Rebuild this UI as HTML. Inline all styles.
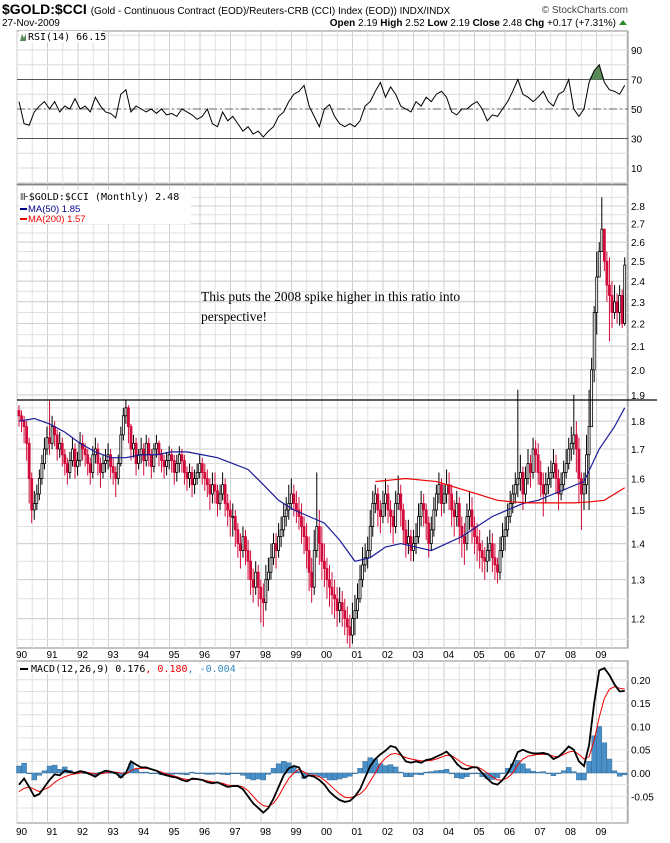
<!DOCTYPE html>
<html><head><meta charset="utf-8"><style>
body{margin:0;background:#fff;}
svg text{font-family:"Liberation Sans",sans-serif;}
</style></head><body>
<svg id="c" width="670" height="838" viewBox="0 0 670 838" xmlns="http://www.w3.org/2000/svg">
<rect x="0" y="0" width="670" height="838" fill="#fff"/>
<g id="grid"></g>
<g id="marks"></g>
<g>
<text x="2" y="14" font-size="14" font-weight="bold">$GOLD:$CCI <tspan font-size="10" font-weight="normal">(Gold - Continuous Contract (EOD)/Reuters-CRB (CCI) Index (EOD))  INDX/INDX</tspan></text>
<text x="628" y="13" font-size="10" text-anchor="end" fill="#444">© StockCharts.com</text>
<text x="2" y="26" font-size="10">27-Nov-2009</text>
<text x="616" y="26" font-size="10" text-anchor="end"><tspan font-weight="bold">Open</tspan> 2.19 <tspan font-weight="bold">High</tspan> 2.52 <tspan font-weight="bold">Low</tspan> 2.19 <tspan font-weight="bold">Close</tspan> 2.48 <tspan font-weight="bold">Chg</tspan> +0.17 (+7.31%)</text>
<polygon points="619,25 627,25 623,20" fill="#2a8a2a"/>
</g>
<text x="201" y="301" font-size="13.5" font-family="Liberation Serif, serif" style="font-family:'Liberation Serif',serif">This puts the 2008 spike higher in this ratio into</text>
<text x="201" y="321" font-size="13.5" style="font-family:'Liberation Serif',serif">perspective!</text>
<g><rect x="19" y="31" width="84" height="11" fill="#fff"/><polygon points="20,41 22,34 24,38 26,33 26,41" fill="#5a8a5a"/><text x="28" y="40" font-size="10" font-family="DejaVu Sans Mono" style="font-family:'DejaVu Sans Mono',monospace">RSI(14) 66.15</text></g>
<g><rect x="19" y="190" width="172" height="34" fill="#fff"/>
<text x="20" y="200" font-size="10" style="font-family:'DejaVu Sans Mono',monospace">⊪$GOLD:$CCI (Monthly) 2.48</text>
<line x1="20" y1="209" x2="27" y2="209" stroke="#00008b" stroke-width="2"/><text x="28" y="212" font-size="9.5" fill="#00008b">MA(50) 1.85</text>
<line x1="20" y1="219" x2="27" y2="219" stroke="#e00" stroke-width="2"/><text x="28" y="222" font-size="9.5" fill="#e00">MA(200) 1.57</text></g>
<g><rect x="19" y="663" width="220" height="11" fill="#fff"/><line x1="20" y1="669" x2="28" y2="669" stroke="#000" stroke-width="2"/>
<text x="31" y="672" font-size="10" style="font-family:'DejaVu Sans Mono',monospace">MACD(12,26,9) 0.176<tspan fill="#e00">, 0.180</tspan><tspan fill="#3a8ac4">, -0.004</tspan></text></g>
</svg>
<script>
const closes=[1.82,1.80,1.78,1.72,1.60,1.50,1.52,1.55,1.60,1.65,1.70,1.74,
1.72,1.78,1.75,1.70,1.72,1.68,1.65,1.62,1.66,1.70,1.64,1.66,
1.72,1.70,1.68,1.65,1.62,1.68,1.70,1.65,1.62,1.65,1.66,1.68,
1.64,1.62,1.60,1.65,1.75,1.82,1.85,1.78,1.70,1.72,1.65,1.68,
1.70,1.66,1.72,1.68,1.64,1.70,1.72,1.68,1.66,1.64,1.66,1.68,
1.66,1.62,1.65,1.68,1.66,1.62,1.60,1.62,1.58,1.60,1.62,1.65,
1.62,1.60,1.58,1.55,1.58,1.56,1.52,1.55,1.58,1.52,1.50,1.48,
1.48,1.44,1.40,1.38,1.42,1.38,1.35,1.30,1.28,1.32,1.28,1.25,
1.24,1.30,1.32,1.36,1.40,1.38,1.42,1.44,1.48,1.50,1.52,1.55,
1.52,1.50,1.48,1.45,1.42,1.38,1.32,1.28,1.38,1.45,1.40,1.35,
1.33,1.30,1.28,1.26,1.25,1.22,1.24,1.22,1.20,1.18,1.16,1.20,
1.22,1.25,1.30,1.34,1.36,1.38,1.45,1.52,1.55,1.50,1.48,1.52,
1.55,1.50,1.48,1.45,1.52,1.55,1.50,1.44,1.40,1.42,1.38,1.40,
1.42,1.48,1.52,1.50,1.46,1.40,1.44,1.50,1.55,1.58,1.52,1.55,
1.58,1.55,1.50,1.48,1.52,1.45,1.42,1.40,1.48,1.50,1.45,1.42,
1.40,1.38,1.36,1.35,1.38,1.40,1.36,1.34,1.32,1.38,1.42,1.44,
1.48,1.52,1.55,1.58,1.60,1.62,1.55,1.60,1.65,1.62,1.70,1.68,
1.62,1.58,1.55,1.58,1.60,1.62,1.65,1.60,1.55,1.58,1.62,1.65,
1.70,1.72,1.75,1.70,1.60,1.55,1.58,1.68,1.78,2.00,2.25,2.42,
2.55,2.67,2.50,2.38,2.33,2.25,2.30,2.25,2.33,2.20,2.48];
const highs=[1.86,1.84,1.82,1.80,1.74,1.62,1.56,1.58,1.63,1.68,1.74,1.78,
1.88,1.82,1.80,1.77,1.76,1.74,1.70,1.67,1.69,1.74,1.72,1.69,
1.76,1.75,1.72,1.70,1.67,1.71,1.74,1.72,1.67,1.68,1.70,1.72,
1.70,1.67,1.64,1.68,1.78,1.85,1.88,1.86,1.79,1.75,1.74,1.70,
1.74,1.72,1.75,1.74,1.70,1.72,1.75,1.73,1.70,1.68,1.69,1.71,
1.70,1.68,1.68,1.71,1.70,1.68,1.64,1.65,1.64,1.63,1.65,1.68,
1.67,1.65,1.63,1.60,1.62,1.62,1.58,1.58,1.62,1.60,1.55,1.53,
1.52,1.50,1.46,1.43,1.45,1.44,1.41,1.38,1.33,1.35,1.34,1.30,
1.29,1.34,1.36,1.40,1.43,1.43,1.46,1.48,1.52,1.54,1.58,1.60,
1.58,1.56,1.54,1.52,1.48,1.46,1.42,1.36,1.44,1.62,1.50,1.45,
1.40,1.36,1.34,1.32,1.30,1.28,1.28,1.27,1.25,1.23,1.21,1.24,
1.26,1.29,1.34,1.39,1.40,1.42,1.50,1.56,1.58,1.57,1.53,1.56,
1.60,1.58,1.53,1.50,1.56,1.61,1.58,1.52,1.47,1.47,1.44,1.44,
1.46,1.52,1.56,1.55,1.52,1.48,1.48,1.54,1.58,1.62,1.60,1.58,
1.63,1.62,1.58,1.53,1.56,1.54,1.48,1.46,1.52,1.56,1.54,1.48,
1.46,1.44,1.41,1.39,1.42,1.44,1.43,1.40,1.36,1.42,1.46,1.48,
1.52,1.56,1.58,1.62,1.92,1.68,1.64,1.64,1.70,1.68,1.74,1.73,
1.72,1.66,1.62,1.62,1.64,1.66,1.70,1.68,1.63,1.62,1.66,1.70,
1.74,1.78,1.90,1.80,1.74,1.62,1.62,1.75,1.92,2.05,2.28,2.55,
2.60,2.85,2.62,2.55,2.52,2.40,2.38,2.34,2.38,2.36,2.52];
const lows=[1.78,1.76,1.72,1.66,1.52,1.46,1.47,1.50,1.53,1.58,1.63,1.68,
1.68,1.70,1.71,1.66,1.67,1.64,1.61,1.58,1.60,1.64,1.60,1.61,
1.64,1.66,1.64,1.61,1.58,1.60,1.65,1.61,1.57,1.60,1.62,1.63,
1.60,1.58,1.54,1.58,1.64,1.73,1.79,1.72,1.66,1.67,1.61,1.63,
1.65,1.61,1.64,1.64,1.60,1.62,1.67,1.64,1.62,1.60,1.61,1.63,
1.62,1.58,1.59,1.62,1.62,1.58,1.56,1.57,1.54,1.55,1.58,1.60,
1.58,1.56,1.54,1.50,1.52,1.52,1.48,1.50,1.53,1.48,1.45,1.42,
1.42,1.39,1.36,1.33,1.36,1.34,1.30,1.26,1.24,1.26,1.23,1.19,
1.18,1.22,1.27,1.30,1.34,1.33,1.36,1.39,1.42,1.45,1.47,1.50,
1.48,1.46,1.44,1.40,1.37,1.33,1.27,1.24,1.26,1.36,1.34,1.30,
1.28,1.25,1.23,1.21,1.20,1.18,1.19,1.18,1.16,1.14,1.13,1.14,
1.16,1.20,1.24,1.28,1.32,1.33,1.36,1.42,1.49,1.45,1.43,1.46,
1.48,1.46,1.43,1.40,1.43,1.50,1.45,1.40,1.36,1.37,1.35,1.35,
1.37,1.40,1.45,1.45,1.41,1.36,1.38,1.42,1.48,1.52,1.48,1.49,
1.52,1.50,1.45,1.42,1.45,1.40,1.36,1.34,1.38,1.44,1.40,1.37,
1.35,1.33,1.32,1.30,1.32,1.35,1.32,1.30,1.29,1.30,1.36,1.38,
1.42,1.46,1.49,1.52,1.54,1.56,1.50,1.52,1.58,1.57,1.60,1.62,
1.58,1.54,1.48,1.52,1.55,1.57,1.60,1.55,1.50,1.53,1.56,1.60,
1.63,1.66,1.68,1.62,1.52,1.44,1.50,1.55,1.50,1.78,1.95,2.15,
2.42,2.55,2.45,2.30,2.12,2.18,2.22,2.20,2.19,2.18,2.19];
const firstOpen=1.84;
const ma50=[1.80,1.81,1.79,1.76,1.72,1.69,1.67,1.67,1.68,1.68,1.69,1.69,1.68,1.67,1.65,1.63,1.58,1.53,1.50,1.48,1.46,1.41,1.35,1.36,1.39,1.40,1.39,1.38,1.40,1.42,1.45,1.48,1.50,1.52,1.53,1.55,1.57,1.59,1.70,1.78,1.85];
const ma200=[1.59,1.595,1.60,1.595,1.59,1.575,1.56,1.545,1.53,1.525,1.522,1.522,1.522,1.522,1.525,1.53,1.56,1.57];
const ma200Start=140;
const rsi=[55,40,39,48,52,55,50,55,48,52,50,57,50,52,48,58,52,48,47,44,60,63,48,52,50,48,50,47,50,46,47,45,50,48,46,43,45,50,40,38,48,42,45,40,35,38,33,35,31,35,38,45,48,55,60,62,66,52,45,38,50,53,45,40,38,40,38,42,52,55,62,68,58,65,60,52,50,48,55,52,58,55,60,62,58,48,46,50,50,53,55,50,42,46,45,50,55,62,70,60,58,55,58,62,55,52,60,62,70,50,45,50,68,76,80,68,63,62,60,66];
const macd=[-0.025,-0.012,-0.03,-0.05,-0.045,-0.03,-0.015,-0.003,-0.005,0.005,0.002,0.0,0.004,0.002,-0.003,-0.008,0.0,0.005,0.003,0.0,-0.01,0.0,0.025,0.018,0.012,0.012,0.008,0.005,-0.002,-0.005,-0.008,-0.01,-0.015,-0.018,-0.012,-0.013,-0.015,-0.02,-0.022,-0.02,-0.025,-0.03,-0.028,-0.028,-0.035,-0.05,-0.065,-0.075,-0.085,-0.075,-0.055,-0.03,-0.005,0.01,0.015,0.012,-0.01,-0.005,-0.008,-0.015,-0.025,-0.04,-0.05,-0.058,-0.062,-0.06,-0.05,-0.035,-0.01,0.015,0.03,0.04,0.048,0.058,0.055,0.04,0.025,0.022,0.025,0.022,0.028,0.03,0.035,0.04,0.046,0.035,0.02,0.01,0.008,0.012,0.012,0.0,-0.012,-0.022,-0.025,-0.015,0.0,0.02,0.045,0.05,0.045,0.042,0.042,0.043,0.04,0.03,0.035,0.045,0.057,0.05,0.025,0.015,0.06,0.15,0.22,0.225,0.21,0.19,0.175,0.176];
const signal=[-0.04,-0.033,-0.03,-0.035,-0.04,-0.035,-0.03,-0.02,-0.013,-0.008,-0.004,-0.002,0.0,0.002,0.0,-0.002,-0.002,0.0,0.002,0.002,0.0,-0.002,0.005,0.01,0.01,0.01,0.008,0.005,0.002,-0.002,-0.005,-0.008,-0.012,-0.014,-0.014,-0.013,-0.014,-0.017,-0.019,-0.02,-0.022,-0.026,-0.027,-0.027,-0.03,-0.038,-0.05,-0.062,-0.07,-0.072,-0.065,-0.05,-0.03,-0.012,0.0,0.008,0.002,-0.004,-0.005,-0.008,-0.015,-0.025,-0.035,-0.045,-0.052,-0.053,-0.05,-0.045,-0.035,-0.018,0.0,0.02,0.032,0.04,0.042,0.038,0.033,0.03,0.028,0.026,0.026,0.027,0.03,0.034,0.038,0.037,0.03,0.022,0.016,0.014,0.013,0.008,0.0,-0.008,-0.015,-0.015,-0.01,0.0,0.018,0.03,0.036,0.038,0.04,0.04,0.04,0.036,0.035,0.04,0.045,0.047,0.04,0.03,0.035,0.07,0.12,0.16,0.18,0.185,0.182,0.18];
const yearLabels=["90","91","92","93","94","95","96","97","98","99","00","01","02","03","04","05","06","07","08","09"];
const rsiTicks=[90,70,50,30,10];
const priceTicks=[2.8,2.7,2.6,2.5,2.4,2.3,2.2,2.1,2.0,1.9,1.8,1.7,1.6,1.5,1.4,1.3,1.2];
const macdTicks=[0.20,0.15,0.10,0.05,0.00,-0.05];
const refLevel=1.88;

const NS="http://www.w3.org/2000/svg";
const L=17,R=628;
const xM=m=>L+2+m*2.545;
const yRsi=v=>109-(v-50)*1.475;
const yP=v=>206+487*Math.log(2.8/v);
const yMacd=v=>773-v*466;
const P={rsi:[31,184],price:[185,648],macd:[661,823]};
const grid=document.getElementById('grid'),marks=document.getElementById('marks');
function el(tag,at,parent){const e=document.createElementNS(NS,tag);for(const k in at)e.setAttribute(k,at[k]);(parent||marks).appendChild(e);return e;}
function fmt(v,d){return v.toFixed(d);}
// panels
for(const k in P){const [t,b]=P[k];
 const r=el('rect',{x:L,y:t,width:R-L,height:b-t,fill:'none',stroke:'#888','stroke-width':1},grid);
 
 
 for(let h=0;h<=40;h++){const x=L+h*15.25;if(x>R)break;
  el('line',{x1:x,y1:t,x2:x,y2:b,stroke:h%2? '#e2e2e2':'#cfcfcf','stroke-width':1},grid);}
}
// year labels
[654,831].forEach(yy=>{yearLabels.forEach((lab,i)=>{const t=el('text',{x:L+i*30.5-1,y:yy+4,'font-size':10});t.textContent=lab;
 
 });});
// RSI grid/ticks
for(let v=0;v<=100;v+=10){const y=yRsi(v);if(y<P.rsi[0]||y>P.rsi[1])continue;el('line',{x1:L,y1:y,x2:R,y2:y,stroke:'#dcdcdc'},grid);}
rsiTicks.forEach(v=>{const t=el('text',{x:631,y:yRsi(v)+4,'font-size':10});t.textContent=v;
 
 });
[70,30].forEach(v=>el('line',{x1:L,y1:yRsi(v),x2:R,y2:yRsi(v),stroke:'#555'}));
el('line',{x1:L,y1:yRsi(50),x2:R,y2:yRsi(50),stroke:'#666','stroke-dasharray':'8,3,2,3'});
// RSI line + overbought fill
let rp=rsi.map((v,k)=>[xM(Math.min(k*2,238)),yRsi(v)]);
const ob=[];for(let k=0;k<rsi.length;k++){if(rsi[k]>70)ob.push(k);}
if(ob.length){const a=Math.max(ob[0]-1,0),b=Math.min(ob[ob.length-1]+1,rsi.length-1);
 let pts=[];for(let k=a;k<=b;k++)pts.push(xM(k*2)+','+Math.min(rp[k][1],yRsi(70)));
 const f=el('polygon',{points:pts.join(' '),fill:'#5a8a5a'});
 
 }
const rl=el('polyline',{points:rp.map(p=>p.join(',')).join(' '),fill:'none',stroke:'#000','stroke-width':1});


// price grid
for(let v=1.15;v<=2.86;v+=0.05){const y=yP(v);if(y<P.price[0]||y>P.price[1])continue;el('line',{x1:L,y1:y,x2:R,y2:y,stroke:'#e0e0e0'},grid);}
priceTicks.forEach(v=>{const y=yP(v);el('line',{x1:L,y1:y,x2:R,y2:y,stroke:'#d0d0d0'},grid);
 const t=el('text',{x:631,y:y+4,'font-size':10});t.textContent=fmt(v,1);
 
 });
// candles
closes.forEach((c,i)=>{const o=i?closes[i-1]:firstOpen;const x=xM(i);
 const up=c>=o;const col=up?'#000':'#d10a3a';
 el('line',{x1:x,y1:yP(highs[i]),x2:x,y2:yP(lows[i]),stroke:col,'stroke-width':1});
 const yt=yP(Math.max(o,c)),yb=yP(Math.min(o,c));
 const r=el('rect',{x:x-1,y:yt,width:2,height:Math.max(yb-yt,1),fill:up?'#fff':col,stroke:col,'stroke-width':0.8});
 
 });
const m5=el('polyline',{points:ma50.map((v,k)=>xM(Math.min(k*6,238))+','+yP(v)).join(' '),fill:'none',stroke:'#1a1a9a','stroke-width':1.2});


const m2=el('polyline',{points:ma200.map((v,k)=>xM(Math.min(ma200Start+k*6,238))+','+yP(v)).join(' '),fill:'none',stroke:'#e00','stroke-width':1.2});


const rlv=el('line',{x1:L,y1:yP(refLevel),x2:657,y2:yP(refLevel),stroke:'#000','stroke-width':1.2});


// MACD
for(let v=-0.075;v<=0.225;v+=0.025){const y=yMacd(v);if(y<P.macd[0]||y>P.macd[1])continue;el('line',{x1:L,y1:y,x2:R,y2:y,stroke:'#e0e0e0'},grid);}
macdTicks.forEach(v=>{const y=yMacd(v);const t=el('text',{x:631,y:y+4,'font-size':10});t.textContent=fmt(v,2);
 
 });
macd.forEach((v,k)=>{const h=v-signal[k];const x=xM(Math.min(k*2,238));const y0=yMacd(0),y1=yMacd(h);
 const b=el('rect',{x:x-2.5,y:Math.min(y0,y1),width:5,height:Math.max(Math.abs(y1-y0),0.8),fill:'#4a90c8',stroke:'#2a5f8a','stroke-width':0.4});
 
 });
const sg=el('polyline',{points:signal.map((v,k)=>xM(Math.min(k*2,238))+','+yMacd(v)).join(' '),fill:'none',stroke:'#e00','stroke-width':1});


const ml=el('polyline',{points:macd.map((v,k)=>xM(Math.min(k*2,238))+','+yMacd(v)).join(' '),fill:'none',stroke:'#000','stroke-width':1.8});


</script>
</body></html>
